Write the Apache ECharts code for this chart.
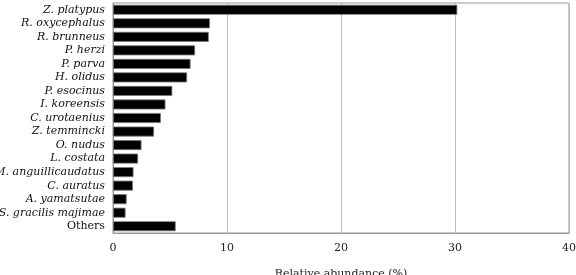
<!DOCTYPE html>
<html><head><meta charset="utf-8">
<script src="https://cdn.jsdelivr.net/npm/echarts@6/dist/echarts.min.js"></script>
<style>html,body{margin:0;padding:0;background:#fff}#c{width:576px;height:275px}</style>
</head><body><div id="c"></div>
<script>
const categories = ["Z. platypus","R. oxycephalus","R. brunneus","P. herzi","P. parva","H. olidus","P. esocinus","I. koreensis","C. urotaenius","Z. temmincki","O. nudus","L. costata","M. anguillicaudatus","C. auratus","A. yamatsutae","S. gracilis majimae","Others"];
const values = [30.2,8.5,8.4,7.2,6.8,6.5,5.2,4.6,4.2,3.6,2.5,2.2,1.8,1.75,1.2,1.1,5.5];
const xTicks = [0,10,20,30,40];
const axisTitle = "Relative abundance (%)";
const chart = echarts.init(document.getElementById('c'));
chart.setOption({
  animation:false,
  grid:{left:113,right:7,top:3,bottom:42,show:true,borderColor:'#999',borderWidth:1,containLabel:false,outerBoundsMode:'none'},
  xAxis:{type:'value',min:0,max:40,interval:10,
    name:axisTitle,nameLocation:'middle',nameGap:36,
    nameTextStyle:{fontFamily:'DejaVu Serif',fontSize:11,color:'#222'},
    axisLine:{show:true,lineStyle:{color:'#999'}},axisTick:{show:false},
    axisLabel:{fontFamily:'DejaVu Serif',fontSize:11,color:'#222',margin:10},
    splitLine:{show:true,lineStyle:{color:'#bbb',width:1}}},
  yAxis:{type:'category',data:categories,inverse:true,
    axisLine:{show:true,lineStyle:{color:'#999'}},axisTick:{show:false},
    axisLabel:{interval:0,margin:8,fontFamily:'DejaVu Serif',fontSize:11,color:'#111',
      formatter:v=>v==='Others'?'{n|'+v+'}':'{i|'+v+'}',
      rich:{i:{fontStyle:'italic',fontFamily:'DejaVu Serif',fontSize:11,color:'#111'},n:{fontFamily:'DejaVu Serif',fontSize:11,color:'#111'}}}},
  series:[{type:'bar',data:values,barCategoryGap:'26%',
    itemStyle:{color:'#000',borderColor:'#777',borderWidth:0.8}}]
});
</script></body></html>
